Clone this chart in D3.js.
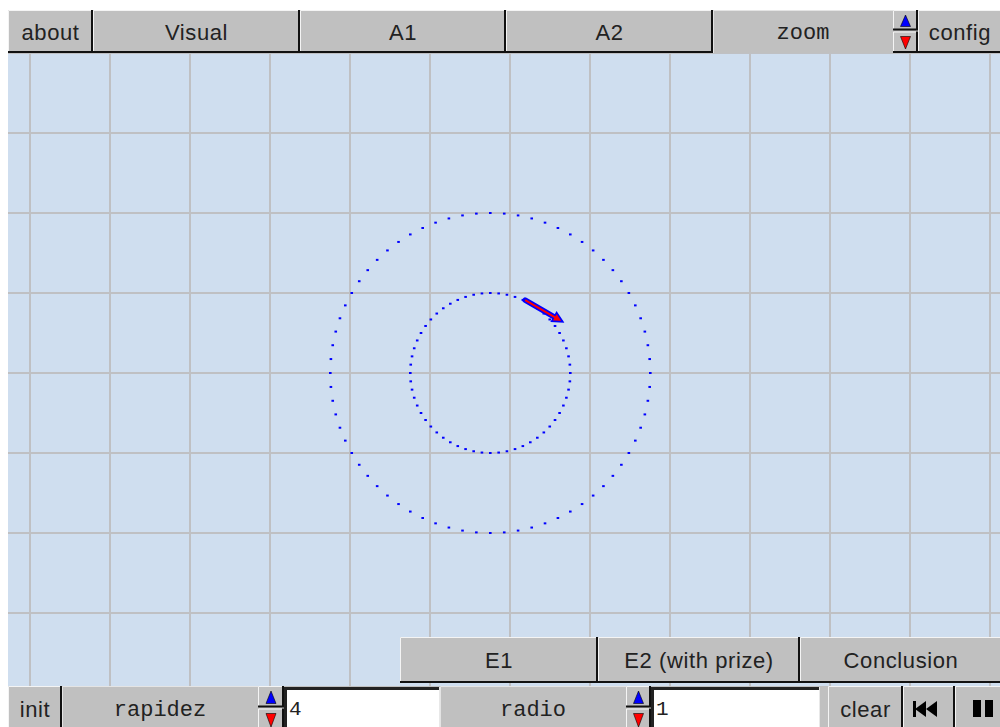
<!DOCTYPE html>
<html>
<head>
<meta charset="utf-8">
<script src="https://cdn.jsdelivr.net/npm/d3@7"></script>
<style>
  html, body { margin: 0; padding: 0; background: #fff; }
  svg { display: block; }
</style>
</head>
<body>
<div id="chart"></div>
<script>
// data
const gridX = [-6, -5, -4, -3, -2, -1, 0, 1, 2, 3, 4, 5, 6]
const gridY = [4, 3, 2, 1, 0, -1, -2, -3, -4]
const orbitCenter = [-0.25, 0]
const outerRadius = 2
const innerRadius = 1
const outerAngles = [0, 5, 10, 15, 20, 25, 30, 35, 40, 45, 50, 55, 60, 65, 70, 75, 80, 85, 90, 95, 100, 105, 110, 115, 120, 125, 130, 135, 140, 145, 150, 155, 160, 165, 170, 175, 180, 185, 190, 195, 200, 205, 210, 215, 220, 225, 230, 235, 240, 245, 250, 255, 260, 265, 270, 275, 280, 285, 290, 295, 300, 305, 310, 315, 320, 325, 330, 335, 340, 345, 350, 355]
const innerAngles = [0, 6, 12, 18, 24, 30, 36, 42, 48, 54, 60, 66, 72, 78, 84, 90, 96, 102, 108, 114, 120, 126, 132, 138, 144, 150, 156, 162, 168, 174, 180, 186, 192, 198, 204, 210, 216, 222, 228, 234, 240, 246, 252, 258, 264, 270, 276, 282, 288, 294, 300, 306, 312, 318, 324, 330, 336, 342, 348, 354]
const arrowFrom = [0.19, 0.91]
const arrowTo = [0.66, 0.64]
const topLabels = ["about", "Visual", "A1", "A2", "zoom", "", "config"]
const lessonLabels = ["E1", "E2 (with prize)", "Conclusion"]
const bottomLabels = ["init", "rapidez", "", "4", "radio", "", "1", "", "clear", "", ""]

const W = 1000, H = 727
const svg = d3.select("#chart").append("svg").attr("width", W).attr("height", H)

// plot area
const plot = {left: 8, top: 53, right: 1000, bottom: 686}
const x = d3.scaleLinear().domain([0, 1]).range([510, 590])
const y = d3.scaleLinear().domain([0, 1]).range([373, 293])

svg.append("rect").attr("x", plot.left).attr("y", plot.top)
  .attr("width", plot.right - plot.left).attr("height", plot.bottom - plot.top)
  .attr("fill", "#cfdeef")

const grid = svg.append("g").attr("stroke", "#bfc0c3").attr("stroke-width", 2)
grid.selectAll("line.v").data(gridX).enter().append("line")
  .attr("x1", d => x(d)).attr("x2", d => x(d))
  .attr("y1", plot.top).attr("y2", plot.bottom)
grid.selectAll("line.h").data(gridY).enter().append("line")
  .attr("y1", d => y(d)).attr("y2", d => y(d))
  .attr("x1", plot.left).attr("x2", plot.right)

function orbit(angles, r){
  const rad = Math.PI / 180
  svg.append("g").selectAll("rect").data(angles).enter().append("rect")
    .attr("x", d => x(orbitCenter[0] + r * Math.cos(d * rad)) - 1)
    .attr("y", d => y(orbitCenter[1] + r * Math.sin(d * rad)) - 1)
    .attr("width", 2.6).attr("height", 2)
    .attr("fill", "#0000ff")
}
orbit(outerAngles, outerRadius)
orbit(innerAngles, innerRadius)

// velocity arrow
const ax1 = x(arrowFrom[0]), ay1 = y(arrowFrom[1])
const ax2 = x(arrowTo[0]), ay2 = y(arrowTo[1])
const ang = Math.atan2(ay2 - ay1, ax2 - ax1)
const head = [[ax2, ay2],
  [ax2 - 10 * Math.cos(ang) + 5 * Math.sin(ang), ay2 - 10 * Math.sin(ang) - 5 * Math.cos(ang)],
  [ax2 - 10 * Math.cos(ang) - 5 * Math.sin(ang), ay2 - 10 * Math.sin(ang) + 5 * Math.cos(ang)]]
svg.append("line").attr("x1", ax1).attr("y1", ay1).attr("x2", ax2 - 6 * Math.cos(ang)).attr("y2", ay2 - 6 * Math.sin(ang))
  .attr("stroke", "#0000ff").attr("stroke-width", 5.5).attr("stroke-linecap", "round")
svg.append("polygon").attr("points", head.map(p => p.join(",")).join(" "))
  .attr("fill", "#ff0000").attr("stroke", "#0000ff").attr("stroke-width", 1.6)
svg.append("line").attr("x1", ax1).attr("y1", ay1).attr("x2", ax2 - 6 * Math.cos(ang)).attr("y2", ay2 - 6 * Math.sin(ang))
  .attr("stroke", "#ff0000").attr("stroke-width", 2)

// widgets
const sans = "'Liberation Sans', Arial, sans-serif"
const mono = "'Liberation Mono', 'Courier New', monospace"

function button(g, x0, y0, w, h, text){
  g.append("rect").attr("x", x0).attr("y", y0).attr("width", w).attr("height", h).attr("fill", "#c0c0c0")
  g.append("path").attr("d", `M${x0 + 0.5},${y0 + h}V${y0 + 0.5}H${x0 + w}`).attr("stroke", "#f4f4f4").attr("fill", "none")
  g.append("path").attr("d", `M${x0},${y0 + h - 1}H${x0 + w - 1}V${y0}`).attr("stroke", "#111").attr("stroke-width", 2).attr("fill", "none")
  if (text) g.append("text").attr("x", x0 + w / 2).attr("y", y0 + h / 2 + 8)
    .attr("text-anchor", "middle").attr("font-family", sans).attr("font-size", 22)
    .attr("letter-spacing", 0.6).attr("fill", "#222").text(text)
}
function label(g, x0, y0, w, h, text){
  g.append("rect").attr("x", x0).attr("y", y0).attr("width", w).attr("height", h).attr("fill", "#c0c0c0")
  g.append("path").attr("d", `M${x0 + 0.5},${y0 + h}V${y0 + 0.5}H${x0 + w}`).attr("stroke", "#e4e4e4").attr("fill", "none")
  g.append("text").attr("x", x0 + w / 2).attr("y", y0 + h / 2 + 7)
    .attr("text-anchor", "middle").attr("font-family", mono).attr("font-size", 22)
    .attr("fill", "#222").text(text)
}
function spinner(g, x0, y0, w, h){
  const hh = h / 2
  button(g, x0, y0, w, hh - 1, "")
  button(g, x0, y0 + hh, w, hh, "")
  const cx = x0 + w / 2
  g.append("polygon").attr("points", `${cx},${y0 + 5} ${cx - 5},${y0 + hh - 5} ${cx + 5},${y0 + hh - 5}`).attr("fill", "#0000ff").attr("stroke", "#000").attr("stroke-width", 0.6)
  g.append("polygon").attr("points", `${cx},${y0 + h - 4} ${cx - 5},${y0 + hh + 5} ${cx + 5},${y0 + hh + 5}`).attr("fill", "#ff0000").attr("stroke", "#000").attr("stroke-width", 0.6)
}
function field(g, x0, y0, w, h, text){
  g.append("rect").attr("x", x0).attr("y", y0).attr("width", w).attr("height", h).attr("fill", "#fff")
  g.append("path").attr("d", `M${x0 + 1.5},${y0 + h}V${y0 + 1.5}H${x0 + w}`).attr("stroke", "#222").attr("stroke-width", 3).attr("fill", "none")
  g.append("path").attr("d", `M${x0},${y0 + h - 0.5}H${x0 + w - 0.5}V${y0}`).attr("stroke", "#e8e8e8").attr("fill", "none")
  g.append("text").attr("x", x0 + 5).attr("y", y0 + 28).attr("font-family", mono).attr("font-size", 21)
    .attr("fill", "#222").text(text)
}

// top bar
const topBar = svg.append("g")
topBar.append("rect").attr("x", 8).attr("y", 10).attr("width", 992).attr("height", 43).attr("fill", "#c0c0c0")
const topX = [8, 93, 300, 506, 713, 893, 918, 1002]
topLabels.forEach((t, i) => {
  const w = topX[i + 1] - topX[i]
  if (i === 4) label(topBar, topX[i], 10, w, 43, t)
  else if (i === 5) spinner(topBar, topX[i], 10, w, 43)
  else button(topBar, topX[i], 10, w, 43, t)
})

// lesson buttons
const les = svg.append("g")
const lesX = [400, 598, 800, 1002]
lessonLabels.forEach((t, i) => button(les, lesX[i], 637, lesX[i + 1] - lesX[i], 46, t))

// bottom bar
const bot = svg.append("g")
bot.append("rect").attr("x", 8).attr("y", 686).attr("width", 992).attr("height", 41).attr("fill", "#c0c0c0")
const botX = [8, 62, 258, 284, 440, 626, 651, 820, 828, 903, 955, 1002]
bottomLabels.forEach((t, i) => {
  const x0 = botX[i], w = botX[i + 1] - x0
  if (i === 0) button(bot, x0, 686, w, 45, t)
  else if (i === 1 || i === 4) label(bot, x0, 686, w, 45, t)
  else if (i === 2 || i === 5) spinner(bot, x0, 686, w, 45)
  else if (i === 3 || i === 6) field(bot, x0, 687, w, 44, t)
  else if (i === 8) button(bot, x0, 686, w, 45, t)
  else if (i === 9) {
    button(bot, x0, 686, w, 45, "")
    const cy = 709
    bot.append("rect").attr("x", 913).attr("y", cy - 8).attr("width", 3).attr("height", 16).attr("fill", "#000")
    bot.append("polygon").attr("points", `915,${cy} 926,${cy - 8} 926,${cy + 8}`).attr("fill", "#000")
    bot.append("polygon").attr("points", `926,${cy} 937,${cy - 8} 937,${cy + 8}`).attr("fill", "#000")
  }
  else if (i === 10) {
    button(bot, x0, 686, w, 45, "")
    bot.append("rect").attr("x", 973).attr("y", 700).attr("width", 8).attr("height", 17).attr("fill", "#000")
    bot.append("rect").attr("x", 985).attr("y", 700).attr("width", 8).attr("height", 17).attr("fill", "#000")
  }
})
</script>
</body>
</html>
